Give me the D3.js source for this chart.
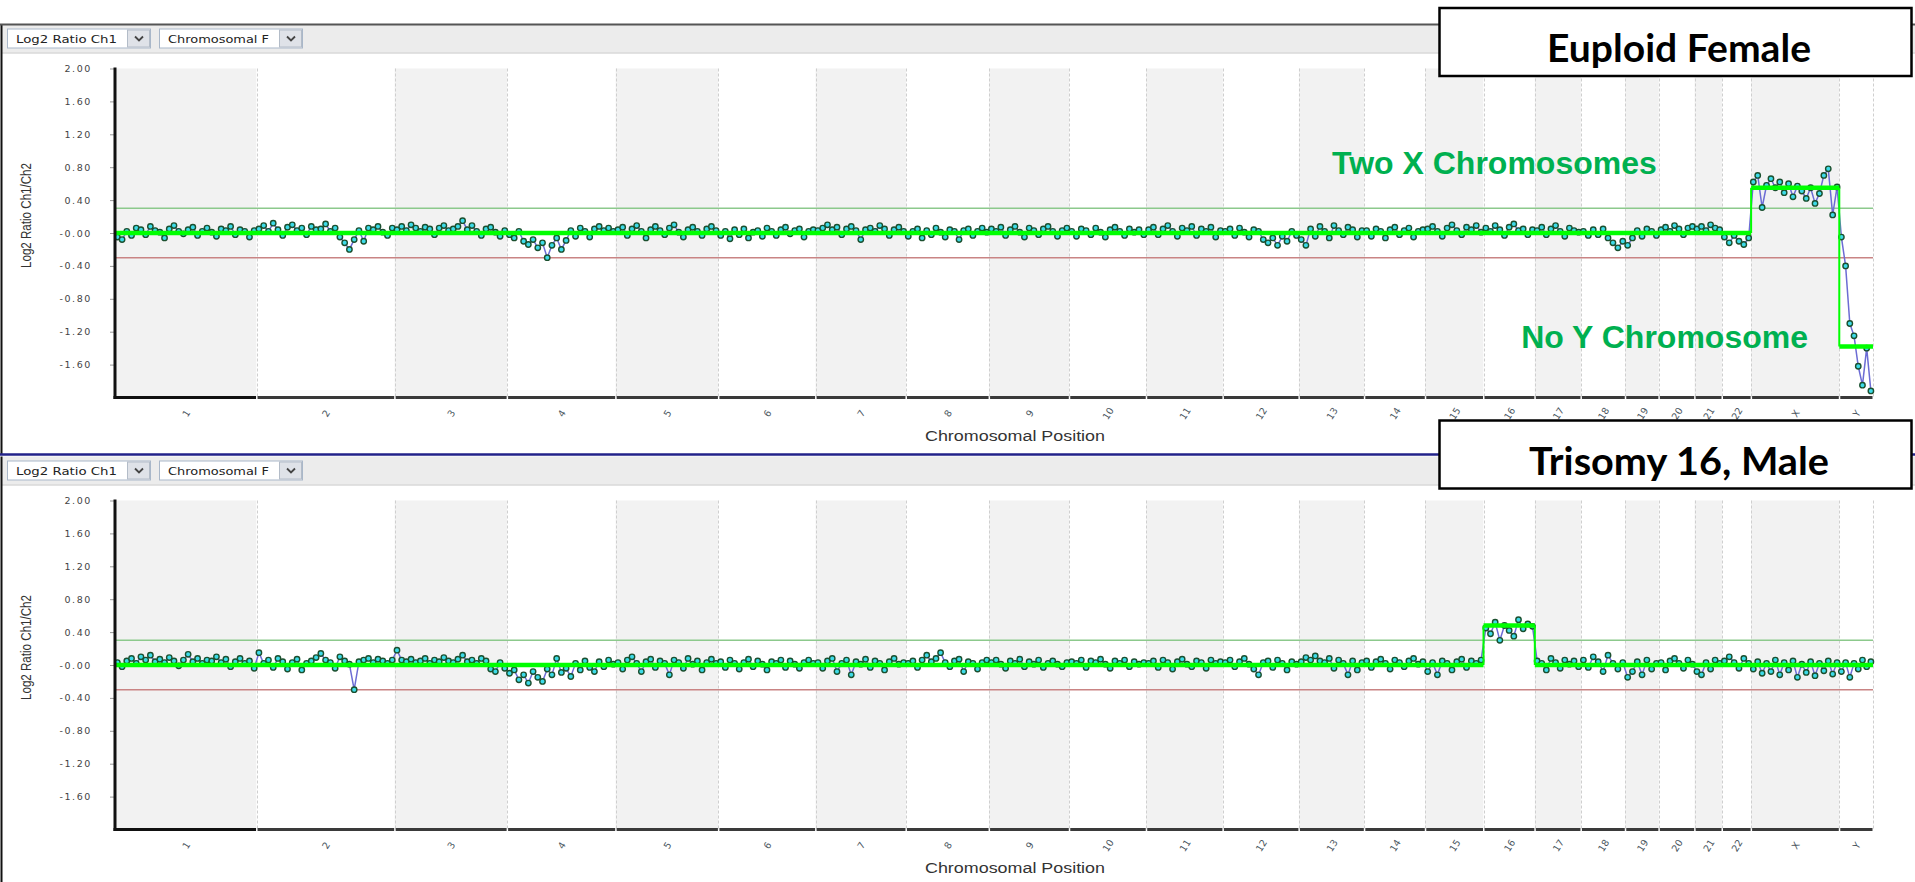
<!DOCTYPE html>
<html lang="en">
<head>
<meta charset="utf-8">
<title>Array CGH - Chromosomal Position</title>
<script src="https://d3js.org/d3.v7.min.js"></script>
<style>
    html, body {
        margin: 0;
        padding: 0;
        background: #fff;
    }
    svg { display: block; }
    text { font-family: "DejaVu Sans", sans-serif; }
</style>
</head>
<body>
<script>
    // chromosomes and their lengths (Mb), drawn proportionally along x
    var chromNames = ["1","2","3","4","5","6","7","8","9","10","11","12","13","14","15","16","17","18","19","20","21","22","X","Y"];
    var chromLengths = [249.25, 243.20, 198.02, 191.15, 180.92, 171.12, 159.14, 146.36, 141.21, 135.53, 135.01, 133.85,
                        115.17, 107.35, 102.53, 90.35, 81.20, 78.08, 59.13, 63.03, 48.13, 51.30, 155.27, 59.37];

    var yTickValues = [2.0, 1.6, 1.2, 0.8, 0.4, 0, -0.4, -0.8, -1.2, -1.6];
    var yTickLabels = ["2.00","1.60","1.20","0.80","0.40","-0.00","-0.40","-0.80","-1.20","-1.60"];
    var gainThreshold = 0.3;
    var lossThreshold = -0.3;

    // log2 ratios, euploid female (one list per chromosome)
    var femaleValues = [
        [-0.05,-0.08,0.02,-0.03,0.06,0.04,-0.02,0.08,0.03,0.01,-0.06,0.05,0.09,0.02,-0.01,0.04,0.07,-0.03,0.02,0.06,0.01,-0.04,0.05,0.03,0.08,-0.02,0.04,0.02,-0.05,0.03],
        [0.05,0.09,0.02,0.12,0.04,-0.03,0.07,0.10,0.03,0.06,-0.02,0.08,0.04,0.05,0.11,0.02,0.06,-0.05,-0.12,-0.20,-0.08,0.03,-0.10,0.06,0.04,0.08,0.01,-0.03,0.06],
        [0.04,0.08,0.03,0.10,0.06,0.02,0.07,0.05,-0.02,0.06,0.09,0.03,0.05,0.08,0.15,0.04,0.09,0.02,-0.03,0.05,0.07,0.01,-0.04,0.03],
        [-0.02,-0.06,0.02,-0.10,-0.14,-0.08,-0.18,-0.12,-0.30,-0.15,-0.06,-0.20,-0.09,0.03,-0.04,0.06,0.02,-0.05,0.05,0.08,0.03,0.06,0.02],
        [0.04,0.07,-0.03,0.05,0.09,0.02,-0.06,0.04,0.08,0.03,-0.02,0.06,0.10,0.01,-0.05,0.04,0.07,0.02,-0.03,0.05,0.08,0.03],
        [-0.03,0.02,-0.07,0.04,-0.02,0.05,-0.06,0.01,0.03,-0.04,0.06,0.02,-0.03,0.04,0.07,-0.01,0.03,0.05,-0.05,0.02,0.04],
        [0.03,0.06,0.10,0.04,0.07,-0.02,0.05,0.08,0.03,-0.08,0.04,0.06,0.02,0.09,0.05,-0.03,0.04,0.07,0.02],
        [-0.04,0.02,0.05,-0.06,0.03,-0.02,0.06,0.01,-0.05,0.04,0.02,-0.08,0.03,0.05,-0.03,0.02,0.06,0.01],
        [0.05,0.02,0.07,-0.03,0.04,0.08,0.01,-0.05,0.06,0.03,-0.02,0.05,0.08,0.02,-0.04,0.03,0.06],
        [0.02,-0.04,0.05,0.03,-0.02,0.06,0.01,-0.05,0.04,0.07,0.02,-0.03,0.05,0.01,0.04,-0.02],
        [0.04,0.07,-0.02,0.05,0.09,0.02,-0.04,0.06,0.03,0.08,-0.03,0.05,0.02,0.07,-0.05,0.03],
        [0.02,0.05,-0.03,0.06,0.01,-0.05,0.04,0.02,-0.08,-0.12,-0.06,-0.15,-0.04,-0.10,0.02,-0.03],
        [-0.08,-0.15,0.05,-0.04,0.08,0.02,-0.06,0.09,0.03,-0.02,0.07,0.04,-0.05,0.03],
        [0.03,-0.04,0.05,0.02,-0.06,0.04,0.07,-0.02,0.03,0.06,-0.05,0.02,0.04],
        [0.05,0.08,0.02,-0.04,0.06,0.10,0.03,-0.02,0.07,0.04,0.09,0.01],
        [0.06,0.02,0.09,0.04,-0.03,0.07,0.11,0.03,0.05,-0.02,0.04],
        [0.03,0.07,-0.02,0.05,0.09,0.02,-0.04,0.06,0.03,0.01],
        [0.02,-0.03,0.04,-0.02,0.05,-0.06,-0.12,-0.18,-0.10],
        [-0.15,-0.06,0.03,-0.04,0.05,0.02,-0.03],
        [0.04,0.07,0.02,0.09,0.05,-0.02,0.06,0.08],
        [0.05,0.08,0.03,0.10,0.06,0.04],
        [-0.05,-0.12,-0.03,-0.10,-0.14,-0.06],
        [0.62,0.70,0.31,0.58,0.66,0.55,0.62,0.49,0.60,0.44,0.57,0.51,0.42,0.55,0.36,0.48,0.70,0.78,0.22,0.56],
        [-0.05,-0.40,-1.10,-1.25,-1.62,-1.85,-1.40,-1.92]
    ];

    // log2 ratios, trisomy 16 male
    var trisomyValues = [
        [0.03,-0.02,0.05,0.08,0.02,0.10,0.06,0.12,0.04,0.07,0.03,0.09,0.05,-0.01,0.06,0.13,0.04,0.08,0.02,0.06,0.05,0.10,0.03,0.07,-0.02,0.04,0.08,0.02,0.05,-0.04],
        [0.15,0.02,0.06,-0.03,0.08,0.04,-0.05,0.03,0.07,-0.06,0.02,0.05,0.09,0.14,0.06,0.03,-0.04,0.10,0.05,0.01,-0.30,0.04,0.06,0.08,0.03,0.07,0.05,0.02,0.06],
        [0.18,0.06,0.04,0.07,0.03,0.05,0.08,0.02,0.06,0.04,0.09,0.05,0.03,0.07,0.12,0.04,0.06,0.02,0.08,0.05,-0.05,-0.08,0.03,-0.04],
        [-0.10,-0.06,-0.18,-0.12,-0.22,-0.08,-0.15,-0.20,-0.05,-0.12,0.08,-0.09,-0.04,-0.14,0.02,-0.06,0.05,-0.03,-0.08,0.04,-0.02,0.06,0.01],
        [0.03,-0.05,0.06,0.10,0.02,-0.08,0.04,0.07,-0.03,0.05,0.02,-0.12,0.06,0.03,-0.04,0.08,0.01,0.05,-0.06,0.03,0.07,0.02],
        [0.04,-0.03,0.06,0.02,-0.05,0.03,0.07,-0.02,0.05,0.01,-0.06,0.04,0.02,0.06,-0.03,0.05,0.01,-0.04,0.03,0.06,0.02],
        [0.03,-0.04,0.05,0.08,-0.08,0.02,0.06,-0.12,0.04,0.01,0.07,-0.03,0.05,0.02,-0.06,0.04,0.08,0.01,0.03],
        [0.02,0.05,-0.03,0.06,0.12,0.04,0.08,0.15,0.03,-0.02,0.05,0.07,-0.08,0.04,0.02,-0.05,0.03,0.06],
        [0.03,0.06,0.01,-0.04,0.05,0.02,0.07,-0.02,0.04,0.01,0.06,-0.03,0.02,0.05,0.01,-0.02,0.03],
        [0.04,0.02,0.06,-0.03,0.05,0.03,0.07,0.01,-0.04,0.05,0.02,0.06,-0.02,0.04,0.01,0.03],
        [0.02,0.05,-0.03,0.06,0.03,-0.05,0.04,0.07,0.01,-0.02,0.05,0.03,-0.04,0.06,0.02,0.04],
        [0.03,0.06,-0.02,0.04,0.08,0.01,-0.05,-0.12,0.03,0.05,-0.03,0.06,0.02,-0.06,0.04,0.01],
        [0.04,0.09,0.06,0.11,0.05,0.03,0.08,-0.04,0.06,0.02,-0.12,0.05,-0.06,0.03],
        [0.05,-0.03,0.04,0.07,0.02,-0.05,0.06,0.03,-0.02,0.05,0.08,0.01,0.04],
        [-0.08,0.03,-0.12,0.05,0.02,-0.06,0.04,0.07,-0.03,0.05,0.02,0.06],
        [0.45,0.38,0.52,0.30,0.48,0.42,0.35,0.55,0.44,0.50,0.47],
        [0.05,0.02,-0.06,0.08,0.03,-0.04,0.06,0.01,0.05,-0.02],
        [0.06,-0.03,0.10,0.04,-0.08,0.12,0.02,-0.05,0.03],
        [-0.15,-0.08,0.04,-0.12,0.06,-0.05,0.02],
        [0.03,-0.06,0.05,0.08,0.02,-0.04,0.06,0.01],
        [-0.08,-0.12,0.03,-0.05,0.06,0.02],
        [0.05,0.10,0.03,-0.04,0.08,0.02],
        [-0.05,0.04,-0.10,0.02,-0.08,0.06,-0.12,0.03,-0.06,0.05,-0.15,0.01,-0.09,0.04,-0.13,0.02,-0.07,0.05,-0.11,0.03],
        [-0.08,0.03,-0.15,0.02,-0.05,0.06,-0.02,0.04]
    ];

    // segment calls (first chromosome, last chromosome, mean log2 ratio)
    var femaleSegStart = ["1", "X", "Y"];
    var femaleSegEnd = ["22", "X", "Y"];
    var femaleSegValue = [0.0, 0.55, -1.38];

    var trisomySegStart = ["1", "16", "17"];
    var trisomySegEnd = ["15", "16", "Y"];
    var trisomySegValue = [0.0, 0.48, 0.0];

    //Width and height
    var w = 1915;
    var h = 882;
    var plotLeft = 115, plotRight = 1873;

    var svg = d3.select("body")
        .append("svg")
        .attr("width", w)
        .attr("height", h);

    var offsets = [0];
    chromLengths.forEach(function(l, i) { offsets.push(offsets[i] + l); });
    var total = offsets[offsets.length - 1];

    var xScale = d3.scaleLinear()
        .domain([0, total])
        .range([plotLeft, plotRight]);

    var centers = chromLengths.map(function(l, i) { return offsets[i] + l / 2; });

    function dropdown(g, x0, wd, label, py) {
        g.append("rect").attr("x", x0 + 0.5).attr("y", py + 4.5).attr("width", wd).attr("height", 19)
            .attr("fill", "#fff").attr("stroke", "#a9b7c9");
        g.append("rect").attr("x", x0 + wd - 22.5).attr("y", py + 5.5).attr("width", 22).attr("height", 17)
            .attr("fill", "#dfe2e8").attr("stroke", "#b3bcc8");
        var cx = x0 + wd - 11, cy = py + 14;
        g.append("path").attr("d", "M" + (cx - 4) + "," + (cy - 2) + "L" + cx + "," + (cy + 2) + "L" + (cx + 4) + "," + (cy - 2))
            .attr("fill", "none").attr("stroke", "#444").attr("stroke-width", 1.8);
        g.append("text").attr("x", x0 + 9).attr("y", py + 18)
            .attr("textLength", wd - 42).attr("lengthAdjust", "spacingAndGlyphs")
            .style("font-size", "10.5px").attr("fill", "#222").text(label);
    }

    function drawPanel(py, values, segStart, segEnd, segValue) {
        var g = svg.append("g");
        var yScale = d3.scaleLinear()
            .domain([-2, 2])
            .range([py + 373, py + 44]);

        // toolbar
        g.append("rect").attr("x", 2).attr("y", py).attr("width", w).attr("height", 28).attr("fill", "#ececec");
        g.append("line").attr("x1", 2).attr("x2", w).attr("y1", py + 28.5).attr("y2", py + 28.5)
            .attr("stroke", "#c6c6c6");
        dropdown(g, 7, 143, "Log2 Ratio Ch1", py);
        dropdown(g, 159, 143, "Chromosomal F", py);

        // left frame
        g.append("line").attr("x1", 1.5).attr("x2", 1.5).attr("y1", py).attr("y2", py + 430)
            .attr("stroke", "#111").attr("stroke-width", 2);

        // alternating chromosome bands
        g.selectAll("rect.band")
            .data(chromLengths)
            .enter().append("rect")
            .attr("class", "band")
            .attr("x", function(d, i) { return xScale(offsets[i]); })
            .attr("y", yScale(2))
            .attr("width", function(d, i) { return xScale(offsets[i + 1]) - xScale(offsets[i]); })
            .attr("height", yScale(-2) - yScale(2))
            .attr("fill", function(d, i) { return i % 2 === 0 ? "#f2f2f2" : "#ffffff"; });

        g.selectAll("line.bound")
            .data(offsets.slice(1))
            .enter().append("line")
            .attr("class", "bound")
            .attr("x1", function(d) { return Math.round(xScale(d)) + 0.5; })
            .attr("x2", function(d) { return Math.round(xScale(d)) + 0.5; })
            .attr("y1", yScale(2)).attr("y2", yScale(-2))
            .attr("stroke", "#cfcfcf").attr("stroke-dasharray", "3,2");

        // thresholds
        g.append("line").attr("x1", plotLeft).attr("x2", plotRight)
            .attr("y1", yScale(gainThreshold)).attr("y2", yScale(gainThreshold))
            .attr("stroke", "#8cc98c").attr("stroke-width", 1.5);
        g.append("line").attr("x1", plotLeft).attr("x2", plotRight)
            .attr("y1", yScale(lossThreshold)).attr("y2", yScale(lossThreshold))
            .attr("stroke", "#c98484").attr("stroke-width", 1.5);

        // probe points
        var pts = [];
        values.forEach(function(arr, i) {
            arr.forEach(function(v, j) {
                pts.push({pos: offsets[i] + (j + 0.5) / arr.length * chromLengths[i], v: v});
            });
        });

        var line = d3.line()
            .x(function(d) { return xScale(d.pos); })
            .y(function(d) { return yScale(d.v); });

        g.append("path").datum(pts).attr("d", line)
            .attr("fill", "none").attr("stroke", "#6c6cd4").attr("stroke-width", 1.5);

        g.selectAll("circle.pt")
            .data(pts)
            .enter().append("circle")
            .attr("class", "pt")
            .attr("cx", function(d) { return xScale(d.pos); })
            .attr("cy", function(d) { return yScale(d.v); })
            .attr("r", 2.7)
            .attr("fill", "#3ddbe8")
            .attr("stroke", "#1b4f2e")
            .attr("stroke-width", 1.4);

        // segments
        var segs = segValue.map(function(v, i) {
            return {
                x0: offsets[chromNames.indexOf(segStart[i])],
                x1: offsets[chromNames.indexOf(segEnd[i]) + 1],
                v: v
            };
        });
        for (var i = 1; i < segs.length; i++) {
            g.append("line")
                .attr("x1", xScale(segs[i].x0)).attr("x2", xScale(segs[i].x0))
                .attr("y1", yScale(segs[i - 1].v)).attr("y2", yScale(segs[i].v))
                .attr("stroke", "#00ff00").attr("stroke-width", 2);
        }
        g.selectAll("line.seg")
            .data(segs)
            .enter().append("line")
            .attr("class", "seg")
            .attr("x1", function(d) { return xScale(d.x0); })
            .attr("x2", function(d) { return xScale(d.x1); })
            .attr("y1", function(d) { return yScale(d.v); })
            .attr("y2", function(d) { return yScale(d.v); })
            .attr("stroke", "#00ff00").attr("stroke-width", 4.5);

        // Y axis
        g.append("g")
            .attr("transform", "translate(" + plotLeft + ",0)")
            .call(d3.axisLeft(yScale)
                .tickValues(yTickValues)
                .tickFormat(function(d, i) { return yTickLabels[i]; })
                .tickSize(5)
                .tickPadding(18))
            .call(function(a) { a.select(".domain").remove(); })
            .call(function(a) { a.selectAll("line").attr("stroke", "#999"); })
            .call(function(a) {
                a.selectAll("text").attr("fill", "#444")
                    .style("font-size", "9.5px").style("letter-spacing", "1.6px")
                    .style("font-family", "DejaVu Sans");
            });

        g.append("line").attr("x1", plotLeft).attr("x2", plotLeft)
            .attr("y1", yScale(2) - 1).attr("y2", yScale(-2) + 1.5)
            .attr("stroke", "#111").attr("stroke-width", 3);

        // X axis: segmented base line + rotated chromosome names
        g.selectAll("line.base")
            .data(chromLengths)
            .enter().append("line")
            .attr("class", "base")
            .attr("x1", function(d, i) { return xScale(offsets[i]) + (i === 0 ? -1.5 : 1); })
            .attr("x2", function(d, i) { return xScale(offsets[i + 1]) - 0.5; })
            .attr("y1", yScale(-2)).attr("y2", yScale(-2))
            .attr("stroke", function(d, i) { return i === 0 ? "#111" : "#3a3a3a"; })
            .attr("stroke-width", 3);

        g.append("g")
            .attr("transform", "translate(0," + yScale(-2) + ")")
            .call(d3.axisBottom(xScale)
                .tickValues(centers)
                .tickFormat(function(d, i) { return chromNames[i]; })
                .tickSize(0))
            .call(function(a) { a.select(".domain").remove(); })
            .selectAll("text")
            .attr("y", 0).attr("dy", "0.35em")
            .attr("transform", "translate(0,16) rotate(-58)")
            .attr("text-anchor", "middle")
            .attr("fill", "#4a5660")
            .style("font-size", "9.5px");

        g.append("text")
            .attr("x", 1015).attr("y", py + 416)
            .attr("text-anchor", "middle")
            .attr("textLength", 180).attr("lengthAdjust", "spacingAndGlyphs")
            .style("font-family", "Liberation Sans, Arial, sans-serif")
            .style("font-size", "14px")
            .attr("fill", "#333")
            .text("Chromosomal Position");

        g.append("text")
            .attr("transform", "translate(31," + (py + 191) + ") rotate(-90)")
            .attr("text-anchor", "middle")
            .attr("textLength", 105).attr("lengthAdjust", "spacingAndGlyphs")
            .style("font-family", "Liberation Sans Narrow, Liberation Sans, sans-serif")
            .style("font-size", "14px")
            .attr("fill", "#333")
            .text("Log2 Ratio Ch1/Ch2");

        return yScale;
    }

    var yTop = drawPanel(24.5, femaleValues, femaleSegStart, femaleSegEnd, femaleSegValue);

    // separator between the two screenshots
    svg.append("line").attr("x1", 0).attr("x2", w).attr("y1", 24.5).attr("y2", 24.5)
        .attr("stroke", "#555").attr("stroke-width", 2);

    var yBottom = drawPanel(456.5, trisomyValues, trisomySegStart, trisomySegEnd, trisomySegValue);

    svg.append("line").attr("x1", 0).attr("x2", w).attr("y1", 454.5).attr("y2", 454.5)
        .attr("stroke", "#22228a").attr("stroke-width", 2.5);

    // annotations
    svg.append("text")
        .attr("x", 1332).attr("y", 174)
        .style("font-family", "Liberation Sans, Arial, sans-serif")
        .style("font-size", "32px").style("font-weight", "bold")
        .attr("fill", "#00b050")
        .text("Two X Chromosomes");

    svg.append("text")
        .attr("x", 1808).attr("y", 348)
        .attr("text-anchor", "end")
        .style("font-family", "Liberation Sans, Arial, sans-serif")
        .style("font-size", "32px").style("font-weight", "bold")
        .attr("fill", "#00b050")
        .text("No Y Chromosome");

    // title boxes
    function titleBox(y0, label, len) {
        svg.append("rect")
            .attr("x", 1439.5).attr("y", y0).attr("width", 472).attr("height", 68)
            .attr("fill", "#fff").attr("stroke", "#000").attr("stroke-width", 2.5);
        svg.append("text")
            .attr("x", 1679).attr("y", y0 + 54)
            .attr("text-anchor", "middle")
            .attr("textLength", len).attr("lengthAdjust", "spacingAndGlyphs")
            .style("font-family", "Lato, Open Sans, sans-serif")
            .style("font-size", "39px").style("font-weight", "bold")
            .attr("fill", "#000")
            .text(label);
    }
    titleBox(8, "Euploid Female", 264);
    titleBox(420.5, "Trisomy 16, Male", 300);
</script>
</body>
</html>
